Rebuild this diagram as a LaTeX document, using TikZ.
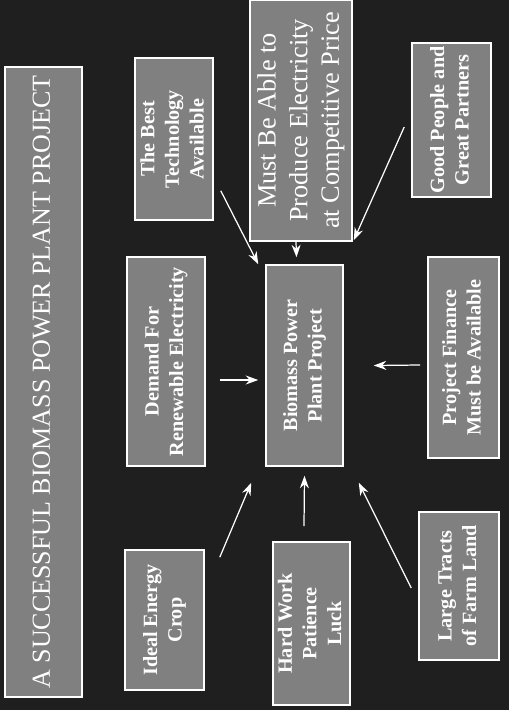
\documentclass[tikz,border=0pt]{standalone}
\usepackage{fontspec}
\setmainfont{Liberation Serif}
\usetikzlibrary{arrows.meta}

\newcommand{\vlab}[1]{\rotatebox{90}{\begin{tabular}{@{}c@{}}#1\end{tabular}}}

\begin{document}
\begin{tikzpicture}[x=0.02cm,y=-0.02cm,
  box/.style={draw=white,line width=0.9pt,fill=black!50,text=white,inner sep=0pt,font=\bfseries\fontsize{11.5}{14}\selectfont},
  link/.style={-{Stealth[length=2.5mm,width=1.8mm]},draw=white,line width=0.7pt}]
\fill[black!88] (0,0) rectangle (509,710);
\useasboundingbox (0,0) rectangle (509,710);
% title bar on the left
\node[box,minimum width=1.54cm,minimum height=12.6cm,font=\fontsize{14.8}{18}\selectfont] (title) at (43.5,382) {\vlab{A SUCCESSFUL BIOMASS POWER PLANT PROJECT}};
% factors
\node[box,minimum width=1.56cm,minimum height=3.24cm] (tech) at (174,139) {\vlab{The Best\\Technology\\Available}};
\node[box,minimum width=2.04cm,minimum height=4.82cm,font=\fontsize{15}{18}\selectfont] (price) at (301,120.5) {\vlab{Must Be Able to\\Produce Electricity\\at Competitive Price}};
\node[box,minimum width=1.58cm,minimum height=3.08cm] (people) at (451.5,120) {\vlab{Good People and\\Great Partners}};
\node[box,minimum width=1.56cm,minimum height=4.18cm] (demand) at (166,361.5) {\vlab{Demand For\\Renewable Electricity}};
\node[box,minimum width=1.54cm,minimum height=4.02cm] (plant) at (304.5,365.5) {\vlab{Biomass Power\\Plant Project}};
\node[box,minimum width=1.42cm,minimum height=4.02cm] (finance) at (463.5,357.5) {\vlab{Project Finance\\Must be Available}};
\node[box,minimum width=1.58cm,minimum height=2.8cm] (crop) at (164.5,620) {\vlab{Ideal Energy\\Crop}};
\node[box,minimum width=1.54cm,minimum height=3.26cm] (work) at (311.5,623.5) {\vlab{Hard Work\\Patience\\Luck}};
\node[box,minimum width=1.6cm,minimum height=2.96cm] (land) at (459,586) {\vlab{Large Tracts\\of Farm Land}};
% arrows into the project
\draw[link] ([shift={(7,-30)}]tech.south east) -- ([shift={(-7,0)}]plant.north west);
\draw[link] ([shift={(-5,0)}]price.south) -- ([shift={(-8,-7)}]plant.north);
\draw[link] ([shift={(-7,7)}]people.west) -- ([shift={(10,-24)}]plant.north east);
\draw[link] ([shift={(14,18.5)}]demand.east) -- ([shift={(-7,14.5)}]plant.west);
\draw[link] ([shift={(-7,7.5)}]finance.west) -- ([shift={(30,0)}]plant.east);
\draw[link] ([shift={(15,8)}]crop.north east) -- ([shift={(-14,16)}]plant.south west);
\draw[link] ([shift={(-7.5,-15)}]work.north) -- ([shift={(0,9)}]plant.south);
\draw[link] ([shift={(-7,2)}]land.west) -- ([shift={(15,16)}]plant.south east);
\end{tikzpicture}
\end{document}
